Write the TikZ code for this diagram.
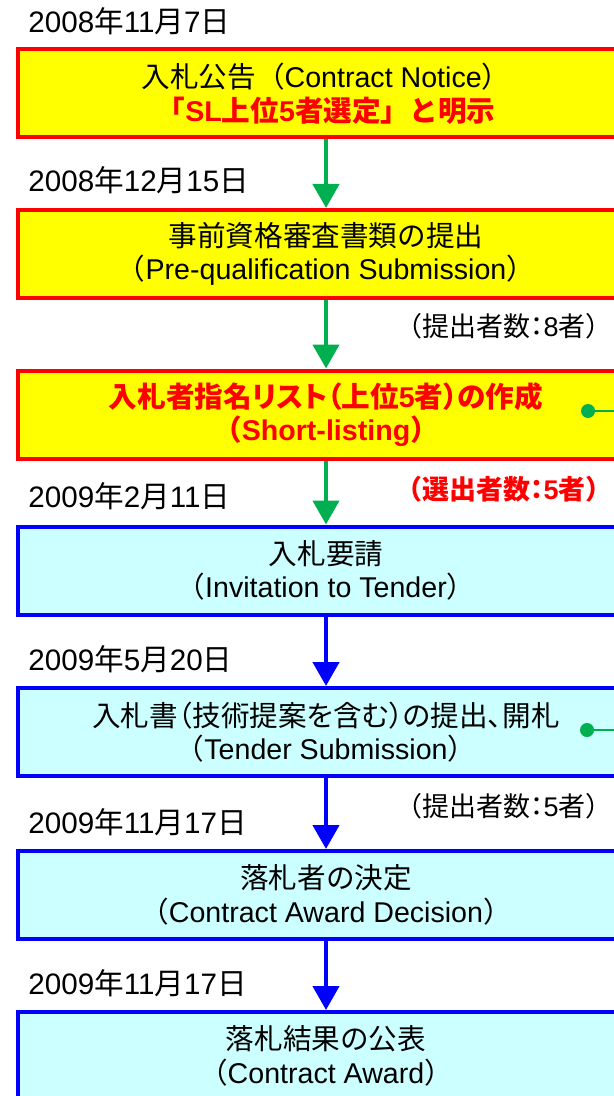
\documentclass[tikz,border=0pt]{standalone}
\usepackage{fontspec}
\setmainfont{Liberation Sans}
\newfontfamily\cjk{Noto Sans CJK JP}
\newfontfamily\cjkp{Noto Sans CJK JP}[RawFeature=+palt]
\usetikzlibrary{arrows.meta}
\newcommand\J[1]{{\cjk #1}}
\newcommand\JP[1]{{\cjkp #1}}
\definecolor{boxyellow}{HTML}{FFFF00}
\definecolor{boxred}{HTML}{FF0000}
\definecolor{boxcyan}{HTML}{CCFFFF}
\definecolor{boxblue}{HTML}{0000FF}
\definecolor{arrgreen}{HTML}{00B050}
\begin{document}
\begin{tikzpicture}[x=0.5pt,y=-0.5pt,
  stage/.style={rectangle, minimum width=308pt, minimum height=44pt, line width=2pt,
    align=center, inner sep=0pt, font=\fontsize{14.3pt}{16.8pt}\selectfont},
  ystage/.style={stage, draw=boxred, fill=boxyellow},
  cstage/.style={stage, draw=boxblue, fill=boxcyan},
  datelabel/.style={anchor=base west, inner sep=0pt, font=\fontsize{14.8pt}{17pt}\selectfont},
  countlabel/.style={anchor=base east, inner sep=0pt, font=\fontsize{13.5pt}{16pt}\selectfont},
  garrow/.style={draw=arrgreen, line width=2.2pt, -{Triangle[width=13pt,length=12pt]}},
  barrow/.style={draw=boxblue, line width=2.2pt, -{Triangle[width=13pt,length=12pt]}},
  gdot/.style={circle, fill=arrgreen, minimum size=7pt, inner sep=0pt},
  gline/.style={draw=arrgreen, line width=1.3pt}
]
\useasboundingbox (0,0) rectangle (614,1096);
\clip (0,0) rectangle (614,1096);
\fill[white] (0,0) rectangle (614,1096);

% dates
\node[datelabel] (t1) at (28,33) {2008\J{年}11\J{月}7\J{日}};
\node[datelabel] (t2) at (28,192) {2008\J{年}12\J{月}15\J{日}};
\node[datelabel] (t3) at (28,507) {2009\J{年}2\J{月}11\J{日}};
\node[datelabel] (t4) at (28,670) {2009\J{年}5\J{月}20\J{日}};
\node[datelabel] (t5) at (28,833) {2009\J{年}11\J{月}17\J{日}};
\node[datelabel] (t6) at (28,994) {2009\J{年}11\J{月}17\J{日}};

% stages
\node[ystage] (b1) at (326,93.5) {\J{入札公告（}Contract Notice\J{）}\\
  \textcolor{boxred}{\bfseries\J{「}SL\J{上位}5\J{者選定」と明示}}};
\node[ystage] (b2) at (326,254) {\J{事前資格審査書類の提出}\\
  \J{（}Pre-qualification Submission\J{）}};
\node[ystage, text=boxred, font=\fontsize{14.3pt}{16.8pt}\selectfont\bfseries] (b3) at (326,414.5)
  {\JP{入札者指名リスト（上位}5\JP{者）の作成}\\ \J{（}Short-listing\J{）}};
\node[cstage] (b4) at (326,570.5) {\J{入札要請}\\ \J{（}Invitation to Tender\J{）}};
\node[cstage] (b5) at (326,732) {\JP{入札書（技術提案を含む）の提出、開札}\\
  \J{（}Tender Submission\J{）}};
\node[cstage] (b6) at (326,895) {\J{落札者の決定}\\ \J{（}Contract Award Decision\J{）}};
\node[cstage] (b7) at (326,1056) {\J{落札結果の公表}\\ \J{（}Contract Award\J{）}};

% counts
\node[countlabel] (c1) at (613,336) {\J{（提出者数}\JP{：}8\J{者）}};
\node[countlabel, text=boxred, font=\fontsize{13.5pt}{16pt}\selectfont\bfseries] (c2) at (613,499)
  {\J{（選出者数}\JP{：}5\J{者）}};
\node[countlabel] (c3) at (613,816) {\J{（提出者数}\JP{：}5\J{者）}};

% arrows
\draw[garrow] (b1.south) -- (b2.north);
\draw[garrow] (b2.south) -- (b3.north);
\draw[garrow] (b3.south) -- (b4.north);
\draw[barrow] (b4.south) -- (b5.north);
\draw[barrow] (b5.south) -- (b6.north);
\draw[barrow] (b6.south) -- (b7.north);

% green side markers
\node[gdot] (d1) at (588,411) {};
\coordinate (d1e) at (640,411);
\draw[gline] (d1) -- (d1e);
\node[gdot] (d2) at (587,730) {};
\coordinate (d2e) at (640,730);
\draw[gline] (d2) -- (d2e);
\end{tikzpicture}
\end{document}
